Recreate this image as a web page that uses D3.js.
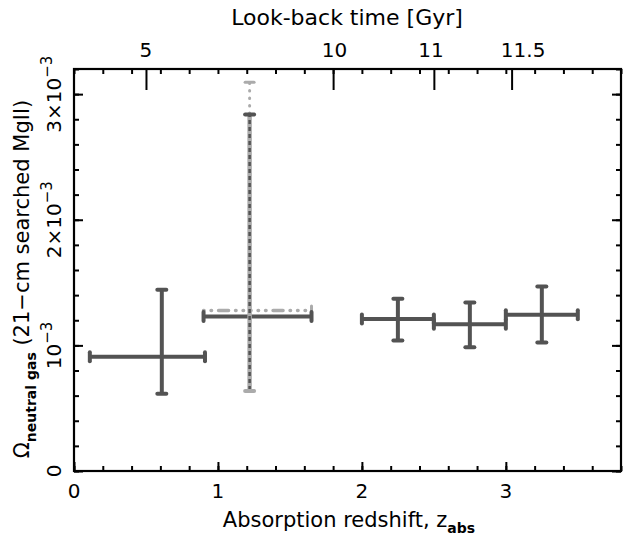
<!DOCTYPE html>
<html>
<head>
<meta charset="utf-8">
<script src="https://cdn.jsdelivr.net/npm/d3@7"></script>
<style>
  body { margin: 0; background: #fff; }
  text { font-family: "DejaVu Sans", sans-serif; fill: #000; }
</style>
</head>
<body>
<svg id="chart" width="624" height="550"></svg>
<script>
// Data (omega values in units of 1e-3)
const zMid = [0.61, 1.22, 2.25, 2.75, 3.25];
const zLo = [0.11, 0.90, 2.00, 2.50, 3.00];
const zHi = [0.91, 1.65, 2.50, 3.00, 3.50];
const omega = [0.91, 1.229, 1.209, 1.169, 1.243];
const omegaLo = [0.614, 0.645, 1.038, 0.986, 1.022];
const omegaHi = [1.442, 2.837, 1.371, 1.341, 1.469];
const vertStyle = ["solid", "dashed", "solid", "solid", "solid"];

// second (light) estimate for the 0.9-1.65 bin
const lightZMid = [1.22];
const lightZLo = [0.90];
const lightZHi = [1.65];
const lightOmega = [1.277];
const lightOmegaLo = [0.637];
const lightOmegaHi = [3.094];

// top axis: look-back time labels and the redshifts they sit at
const lookbackLabels = ["5", "10", "11", "11.5"];
const lookbackZ = [0.50, 1.80, 2.50, 3.04];
const lookbackLabelZ = [0.50, 1.81, 2.48, 3.12];

const xTickLabels = ["0", "1", "2", "3"];
const yTickValues = [0, 1, 2, 3];

const svg = d3.select("#chart");
const dark = "#535353";
const light = "#ababab";

const x = d3.scaleLinear().domain([0, 3.8]).range([74, 621]);
const y = d3.scaleLinear().domain([0, 3.2]).range([471, 69]);

const minorZ = d3.range(0, 3.81, 0.2);
const minorY = d3.range(0, 3.21, 0.2);

// Axes with inward ticks
function tickAxis(axisFn, scale, values, size, translate) {
    const g = svg.append("g")
        .attr("transform", translate)
        .call(axisFn(scale).tickValues(values).tickSize(-size).tickFormat(""));
    g.select(".domain").remove();
    g.selectAll("line").attr("stroke", "#000").attr("stroke-width", 2);
    return g;
}

tickAxis(d3.axisBottom, x, minorZ, 5, "translate(0,471)");
tickAxis(d3.axisBottom, x, [0, 1, 2, 3], 9, "translate(0,471)");
tickAxis(d3.axisTop, x, minorZ, 5, "translate(0,69)");
tickAxis(d3.axisTop, x, lookbackZ, 21, "translate(0,69)");
tickAxis(d3.axisLeft, y, minorY, 5, "translate(74,0)");
tickAxis(d3.axisLeft, y, yTickValues, 9, "translate(74,0)");
tickAxis(d3.axisRight, y, minorY, 5, "translate(621,0)");
tickAxis(d3.axisRight, y, yTickValues, 9, "translate(621,0)");

// Frame
svg.append("rect")
    .attr("x", x(0)).attr("y", y(3.2))
    .attr("width", x(3.8) - x(0)).attr("height", y(0) - y(3.2))
    .attr("fill", "none").attr("stroke", "#000").attr("stroke-width", 2.2);

// Tick labels
svg.append("g").selectAll("text")
    .data(xTickLabels)
    .join("text")
    .attr("x", (d, i) => x(i))
    .attr("y", 498)
    .attr("text-anchor", "middle")
    .attr("font-size", 20)
    .text(d => d);

svg.append("g").selectAll("text")
    .data(lookbackLabels)
    .join("text")
    .attr("x", (d, i) => x(lookbackLabelZ[i]))
    .attr("y", 57)
    .attr("text-anchor", "middle")
    .attr("font-size", 20)
    .text(d => d);

const yl = svg.append("g").selectAll("text")
    .data(yTickValues)
    .join("text")
    .attr("transform", d => `translate(61,${y(d)}) rotate(-90)`)
    .attr("text-anchor", "middle")
    .attr("font-size", 20);
yl.each(function(d) {
    const t = d3.select(this);
    if (d === 0) { t.text("0"); return; }
    t.append("tspan").text(d === 1 ? "10" : d + "×10");
    t.append("tspan").attr("dy", -9).attr("font-size", 15).text("−3");
});

// Axis titles
const xt = svg.append("text")
    .attr("x", 349).attr("y", 527)
    .attr("text-anchor", "middle")
    .attr("font-size", 21);
xt.append("tspan").text("Absorption redshift, z");
xt.append("tspan").attr("dy", 6).attr("font-size", 14).attr("font-weight", "bold").text("abs");

svg.append("text")
    .attr("x", 347).attr("y", 25)
    .attr("text-anchor", "middle")
    .attr("font-size", 22)
    .text("Look-back time [Gyr]");

const yt = svg.append("text")
    .attr("transform", "translate(29,279) rotate(-90)")
    .attr("text-anchor", "middle")
    .attr("font-size", 21);
yt.append("tspan").text("Ω");
yt.append("tspan").attr("dy", 7).attr("font-size", 14).attr("font-weight", "bold").text("neutral gas");
yt.append("tspan").attr("dy", -7).text(" (21−cm searched MgII)");

// Error bars
const capLen = 4.5;
function cap(g, x1, y1, horizontal, color, w) {
    g.append("line")
        .attr("x1", horizontal ? x1 - capLen : x1).attr("x2", horizontal ? x1 + capLen : x1)
        .attr("y1", horizontal ? y1 : y1 - capLen).attr("y2", horizontal ? y1 : y1 + capLen)
        .attr("stroke", color).attr("stroke-width", w).attr("stroke-linecap", "round");
}

const bars = svg.append("g");

// light estimate: dash-dot horizontal, dotted vertical
lightZMid.forEach((zm, i) => {
    bars.append("line")
        .attr("x1", x(lightZLo[i])).attr("x2", x(lightZHi[i]))
        .attr("y1", y(lightOmega[i])).attr("y2", y(lightOmega[i]))
        .attr("stroke", light).attr("stroke-width", 3.5)
        .attr("stroke-linecap", "round")
        .attr("stroke-dasharray", "0.5,7,0.5,7,10,7,0.5,7,0.5,7,0.5,7");
    bars.append("line")
        .attr("x1", x(zm)).attr("x2", x(zm))
        .attr("y1", y(lightOmegaLo[i])).attr("y2", y(lightOmegaHi[i]))
        .attr("stroke", light).attr("stroke-width", 3)
        .attr("stroke-linecap", "round")
        .attr("stroke-dasharray", "0.5,7");
    cap(bars, x(lightZHi[i]), y(lightOmega[i]), false, light, 3);
    cap(bars, x(zm), y(lightOmegaHi[i]), true, light, 3);
});

zMid.forEach((zm, i) => {
    bars.append("line")
        .attr("x1", x(zLo[i])).attr("x2", x(zHi[i]))
        .attr("y1", y(omega[i])).attr("y2", y(omega[i]))
        .attr("stroke", dark).attr("stroke-width", 4);
    if (vertStyle[i] === "dashed") {
        bars.append("line")
            .attr("x1", x(zm)).attr("x2", x(zm))
            .attr("y1", y(omegaLo[i])).attr("y2", y(omegaHi[i]))
            .attr("stroke", light).attr("stroke-width", 4.5);
        bars.append("line")
            .attr("x1", x(zm)).attr("x2", x(zm))
            .attr("y1", y(omegaLo[i])).attr("y2", y(omegaHi[i]))
            .attr("stroke", dark).attr("stroke-width", 2.5)
            .attr("stroke-dasharray", "4,3");
    } else {
        bars.append("line")
            .attr("x1", x(zm)).attr("x2", x(zm))
            .attr("y1", y(omegaLo[i])).attr("y2", y(omegaHi[i]))
            .attr("stroke", dark).attr("stroke-width", 4);
    }
    cap(bars, x(zLo[i]), y(omega[i]), false, dark, 4);
    cap(bars, x(zHi[i]), y(omega[i]), false, dark, 4);
    cap(bars, x(zm), y(omegaHi[i]), true, dark, 4);
    if (vertStyle[i] === "dashed") {
        cap(bars, x(zm), y(lightOmegaLo[0]), true, light, 4);
    } else {
        cap(bars, x(zm), y(omegaLo[i]), true, dark, 4);
    }
});
</script>
</body>
</html>
